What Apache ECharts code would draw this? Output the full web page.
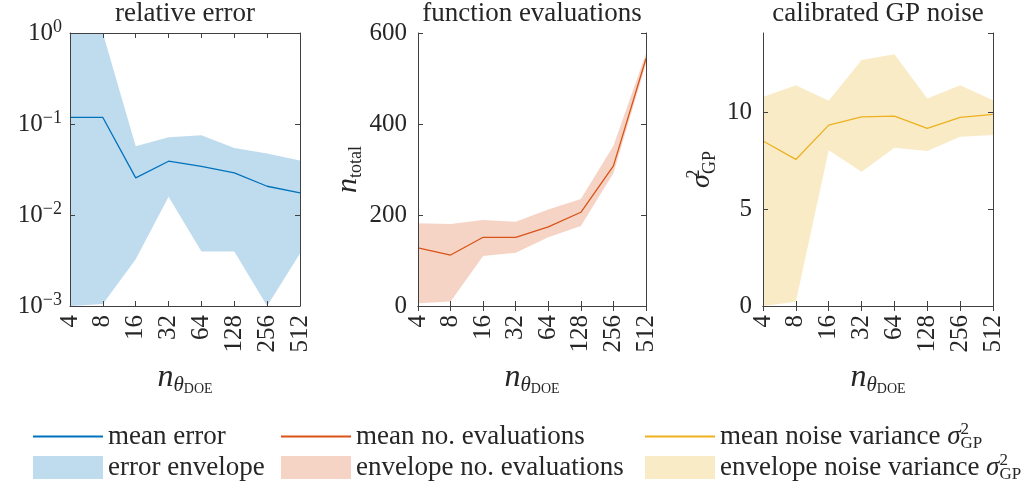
<!DOCTYPE html>
<html>
<head>
<meta charset="utf-8">
<script src="https://cdn.jsdelivr.net/npm/echarts@6/dist/echarts.min.js"></script>
<style>
  html, body { margin: 0; padding: 0; background: #fff; }
  #chart { width: 1032px; height: 489px; }
</style>
</head>
<body>
<div id="chart"></div>
<script>
// Design-of-experiments sizes (x axis of all three panels)
const categories = ['4', '8', '16', '32', '64', '128', '256', '512'];

// Panel 1: relative error (log scale)
const errMean  = [0.118, 0.118, 0.0256, 0.039, 0.0343, 0.029, 0.0207, 0.0175];
const errUpper = [1, 1, 0.0569, 0.0714, 0.075, 0.0546, 0.0473, 0.0396];
const errLower = [0.001, 0.00105, 0.00327, 0.0159, 0.00396, 0.00396, 0.001, 0.00377];

// Panel 2: total number of function evaluations
const evalMean  = [128, 112, 151, 151, 174, 206, 308, 544];
const evalUpper = [182, 180, 189, 185, 212, 235, 352, 555];
const evalLower = [6, 10, 110, 117, 151, 176, 292, 533];

// Panel 3: calibrated GP noise variance
const noiseMean  = [8.52, 7.57, 9.34, 9.77, 9.81, 9.17, 9.74, 9.9];
const noiseUpper = [10.8, 11.4, 10.6, 12.7, 13.0, 10.72, 11.4, 10.63];
const noiseLower = [0, 0.22, 8.05, 6.93, 8.17, 8.0, 8.74, 8.83];

const titles = ['relative error', 'function evaluations', 'calibrated GP noise'];

const FONT = 'Liberation Serif';
const AXIS_COLOR = '#404040';
const TEXT_COLOR = '#262626';
const BLUE = '#0072BD', ORANGE = '#D95319', YELLOW = '#EDB120';
const BLUE_F = 'rgba(0,114,189,0.25)';
const ORANGE_F = 'rgba(217,83,25,0.25)';
const YELLOW_F = 'rgba(237,177,32,0.25)';

const grids = [
  { left: 70,  top: 33, width: 230, height: 273 },
  { left: 418, top: 33, width: 228, height: 273 },
  { left: 763, top: 33, width: 230, height: 273 }
];

const mathRich = {
  n:   { fontFamily: FONT, fontStyle: 'italic', fontSize: 32, color: TEXT_COLOR, lineHeight: 36 },
  th:  { fontFamily: FONT, fontStyle: 'italic', fontSize: 21, color: TEXT_COLOR, lineHeight: 22, verticalAlign: 'bottom' },
  doe: { fontFamily: FONT, fontSize: 14, color: TEXT_COLOR, lineHeight: 8, verticalAlign: 'bottom' },
  sub: { fontFamily: FONT, fontSize: 18, color: TEXT_COLOR, lineHeight: 18, verticalAlign: 'bottom' },
  s:   { fontFamily: FONT, fontStyle: 'italic', fontSize: 28, color: TEXT_COLOR, lineHeight: 34 },
  sup: { fontFamily: FONT, fontSize: 18, color: TEXT_COLOR, lineHeight: 16, verticalAlign: 'top', width: 0 },
  gp:  { fontFamily: FONT, fontSize: 18, color: TEXT_COLOR, lineHeight: 16, verticalAlign: 'bottom' }
};

const tickRich = {
  b: { fontFamily: FONT, fontSize: 25, color: TEXT_COLOR, lineHeight: 30 },
  e: { fontFamily: FONT, fontSize: 18, color: TEXT_COLOR, lineHeight: 14, verticalAlign: 'top' }
};

function logLabel(v) {
  const p = Math.round(Math.log10(v));
  return '{b|10}{e|' + (p < 0 ? '\u2212' + (-p) : p) + '}';
}

const xName = '{n|n}{th|\u03b8}{doe|DOE}';

function xAxes(gi) {
  return [
    {
      type: 'category', gridIndex: gi, data: categories, boundaryGap: false, position: 'bottom', z: 10,
      axisLine: { show: true, lineStyle: { color: AXIS_COLOR, width: 1 } },
      axisTick: { show: true, inside: true, length: 5, lineStyle: { color: AXIS_COLOR } },
      axisLabel: { rotate: 90, margin: 9, fontFamily: FONT, fontSize: 25, color: TEXT_COLOR, interval: 0 },
      splitLine: { show: false },
      name: xName, nameLocation: 'middle', nameGap: 54,
      nameTextStyle: { rich: mathRich }
    },
    {
      type: 'category', gridIndex: gi, data: categories, boundaryGap: false, position: 'top', z: 10,
      axisLine: { show: true, lineStyle: { color: AXIS_COLOR, width: 1 } },
      axisTick: { show: true, inside: true, length: 5, lineStyle: { color: AXIS_COLOR } },
      axisLabel: { show: false }, splitLine: { show: false }
    }
  ];
}

function yAxesPair(gi, base, leftExtra) {
  const common = Object.assign({ gridIndex: gi, z: 10, splitLine: { show: false } }, base);
  const left = Object.assign({}, common, {
    position: 'left',
    axisLine: { show: true, lineStyle: { color: AXIS_COLOR, width: 1 } },
    axisTick: { show: true, inside: true, length: 5, lineStyle: { color: AXIS_COLOR } }
  }, leftExtra);
  const right = Object.assign({}, common, {
    position: 'right',
    axisLine: { show: true, lineStyle: { color: AXIS_COLOR, width: 1 } },
    axisTick: { show: true, inside: true, length: 5, lineStyle: { color: AXIS_COLOR } },
    axisLabel: { show: false }
  });
  return [left, right];
}

const yAxis = [].concat(
  yAxesPair(0, { type: 'log', logBase: 10, min: 0.001, max: 1 }, {
    axisLabel: { margin: 8, formatter: logLabel, rich: tickRich }
  }),
  yAxesPair(1, { type: 'value', min: 0, max: 600, interval: 200 }, {
    axisLabel: { margin: 11, fontFamily: FONT, fontSize: 25, color: TEXT_COLOR },
    name: '{n|n}{sub|total}', nameLocation: 'middle', nameGap: 50, nameRotate: 90,
    nameTextStyle: { rich: Object.assign({}, mathRich, {
      n: { fontFamily: FONT, fontStyle: 'italic', fontSize: 30, color: TEXT_COLOR, lineHeight: 34 }
    }) }
  }),
  yAxesPair(2, { type: 'value', min: 0, max: 14.1, interval: 5 }, {
    axisLabel: { margin: 11, fontFamily: FONT, fontSize: 25, color: TEXT_COLOR, showMaxLabel: false },
    name: '{s|\u03c3}{sup|2}{gp|GP}', nameLocation: 'middle', nameGap: 44, nameRotate: 90,
    nameTextStyle: { rich: mathRich }
  })
);

const xAxis = [].concat(xAxes(0), xAxes(1), xAxes(2));

// Envelope drawn as a single polygon through the axis scales
function bandRender(upper, lower, fill) {
  return function (params, api) {
    if (params.dataIndex !== 0) return null;
    const pts = [];
    for (let i = 0; i < categories.length; i++) pts.push(api.coord([i, upper[i]]));
    for (let i = categories.length - 1; i >= 0; i--) pts.push(api.coord([i, lower[i]]));
    return { type: 'polygon', shape: { points: pts }, style: { fill: fill } };
  };
}

function band(name, gi, upper, lower, fill) {
  return {
    name: name, type: 'custom', xAxisIndex: gi * 2, yAxisIndex: gi * 2, z: 1,
    renderItem: bandRender(upper, lower, fill),
    itemStyle: { color: fill },
    data: [[0, upper[0]]], silent: true, animation: false
  };
}

function meanLine(name, gi, values, color) {
  return {
    name: name, type: 'line', xAxisIndex: gi * 2, yAxisIndex: gi * 2, z: 3,
    data: values, symbol: 'none', showSymbol: false,
    lineStyle: { color: color, width: 1.3 }, itemStyle: { color: color },
    silent: true, animation: false
  };
}

const series = [
  band('error envelope', 0, errUpper, errLower, BLUE_F),
  meanLine('mean error', 0, errMean, BLUE),
  band('envelope no. evaluations', 1, evalUpper, evalLower, ORANGE_F),
  meanLine('mean no. evaluations', 1, evalMean, ORANGE),
  band('envelope noise variance', 2, noiseUpper, noiseLower, YELLOW_F),
  meanLine('mean noise variance', 2, noiseMean, YELLOW)
];

const legendText = {
  fontFamily: FONT, fontSize: 27, color: TEXT_COLOR, lineHeight: 31,
  rich: {
    s:   { fontFamily: FONT, fontStyle: 'italic', fontSize: 27, color: TEXT_COLOR, lineHeight: 31 },
    sup: { fontFamily: FONT, fontSize: 17, color: TEXT_COLOR, lineHeight: 14, verticalAlign: 'top', width: 0 },
    gp:  { fontFamily: FONT, fontSize: 17, color: TEXT_COLOR, lineHeight: 14, verticalAlign: 'bottom' }
  }
};

function legendCol(left, names) {
  return {
    orient: 'vertical', left: left, top: 421, itemGap: 0, padding: 0,
    itemWidth: 70, itemHeight: 23, selectedMode: false,
    data: [
      // plain line key, no marker on it
      { name: names[0], itemStyle: { opacity: 0 } },
      { name: names[1], icon: 'rect' }
    ],
    textStyle: legendText,
    formatter: function (n) {
      return n.indexOf('noise variance') >= 0 ? n + ' {s|\u03c3}{sup|2}{gp|GP}' : n;
    }
  };
}

const option = {
  backgroundColor: '#ffffff',
  animation: false,
  title: titles.map(function (t, i) {
    return {
      text: t, left: grids[i].left + grids[i].width / 2, top: 0, textAlign: 'center', padding: 0,
      textStyle: { fontFamily: FONT, fontSize: 27, fontWeight: 'normal', color: TEXT_COLOR }
    };
  }),
  grid: grids.map(function (g) { return Object.assign({ show: false, containLabel: false }, g); }),
  legend: [
    legendCol(32, ['mean error', 'error envelope']),
    legendCol(280, ['mean no. evaluations', 'envelope no. evaluations']),
    legendCol(644, ['mean noise variance', 'envelope noise variance'])
  ],
  xAxis: xAxis,
  yAxis: yAxis,
  series: series
};

const chart = echarts.init(document.getElementById('chart'), null, { renderer: 'canvas' });
chart.setOption(option);
</script>
</body>
</html>
